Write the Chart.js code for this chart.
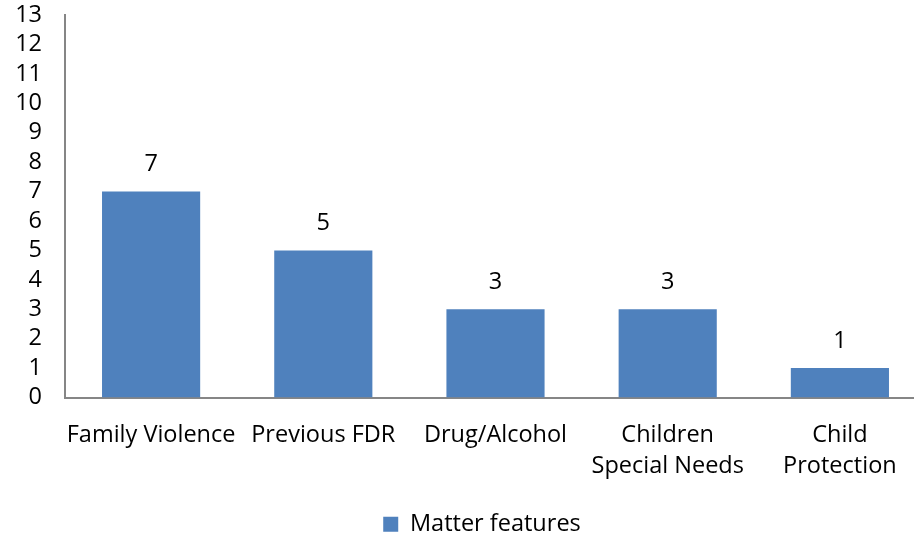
<!DOCTYPE html>
<html>
<head>
<meta charset="utf-8">
<script src="https://cdn.jsdelivr.net/npm/chart.js@4/dist/chart.umd.min.js"></script>
<style>
  html, body { margin: 0; padding: 0; background: #fff; overflow: hidden; }
  #wrap { width: 926px; height: 556px; margin-top: -22px; position: relative; }
</style>
</head>
<body>
<div id="wrap"><canvas id="c"></canvas></div>
<script>
const categories = [
  'Family Violence',
  'Previous FDR',
  'Drug/Alcohol',
  ['Children', 'Special Needs'],
  ['Child', 'Protection']
];
const matterFeatures = [7, 5, 3, 3, 1];
const seriesName = 'Matter features';
const yTicks = [0, 1, 2, 3, 4, 5, 6, 7, 8, 9, 10, 11, 12, 13];

const FONT = '"Open Sans", Lato, sans-serif';
const SIZE = 23.5;
const BAR = '#4F81BD';
const AXIS = '#868686';

// value labels above each bar
const valueLabels = {
  id: 'valueLabels',
  afterDatasetsDraw(chart) {
    const ctx = chart.ctx;
    const meta = chart.getDatasetMeta(0);
    ctx.save();
    ctx.font = SIZE + 'px ' + FONT;
    ctx.fillStyle = '#000';
    ctx.textAlign = 'center';
    ctx.textBaseline = 'middle';
    meta.data.forEach((bar, i) => {
      ctx.fillText(String(chart.data.datasets[0].data[i]), bar.x, bar.y - 27);
    });
    ctx.restore();
  }
};

// place the legend slightly right of centre and close to the bottom edge
const legendShift = {
  id: 'legendShift',
  afterLayout(chart) {
    const lg = chart.legend;
    if (!lg) return;
    lg.left += 38;
    lg.top += 12;
    lg.bottom += 12;
  }
};

new Chart(document.getElementById('c'), {
  type: 'bar',
  data: {
    labels: categories,
    datasets: [{
      label: seriesName,
      data: matterFeatures,
      backgroundColor: BAR,
      borderWidth: 0,
      categoryPercentage: 1,
      barPercentage: 0.57
    }]
  },
  options: {
    responsive: true,
    maintainAspectRatio: false,
    animation: false,
    layout: { padding: 0 },
    plugins: {
      tooltip: { enabled: false },
      legend: {
        position: 'bottom',
        labels: {
          font: { family: FONT, size: SIZE },
          color: '#000',
          boxWidth: 15,
          boxHeight: 15,
          padding: 0
        }
      }
    },
    scales: {
      x: {
        grid: { display: false, drawTicks: false },
        border: { display: true, color: AXIS, width: 2 },
        ticks: {
          font: { family: FONT, size: SIZE, lineHeight: 1.33 },
          color: '#000',
          padding: 22,
          maxRotation: 0,
          autoSkip: false
        },
        afterFit(scale) { scale.height = 103; }
      },
      y: {
        min: 0,
        max: 13,
        afterBuildTicks(scale) { scale.ticks = yTicks.map(v => ({ value: v })); },
        grid: { display: false, drawTicks: false },
        border: { display: true, color: AXIS, width: 2 },
        ticks: {
          font: { family: FONT, size: SIZE },
          color: '#000',
          padding: 23,
          autoSkip: false
        },
        afterFit(scale) { scale.width = 65; }
      }
    }
  },
  plugins: [valueLabels, legendShift]
});
</script>
</body>
</html>
